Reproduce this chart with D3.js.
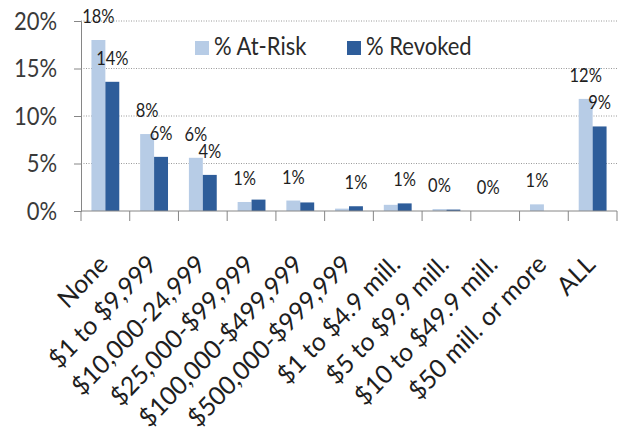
<!DOCTYPE html>
<html>
<head>
<meta charset="utf-8">
<script src="https://cdn.jsdelivr.net/npm/d3@7"></script>
<style>
  html, body { margin: 0; padding: 0; background: #fff; }
  svg { display: block; }
  text { font-family: Lato, "Open Sans", sans-serif; }
</style>
</head>
<body>
<svg id="chart" width="623" height="431"></svg>
<script>
// Asset brackets (x-axis categories)
const categories = [
  "None", "$1 to $9,999", "$10,000-24,999", "$25,000-$99,999",
  "$100,000-$499,999", "$500,000-$999,999", "$1 to $4.9 mill.",
  "$5 to $9.9 mill.", "$10 to $49.9 mill.", "$50 mill. or more", "ALL"
];
// Percent of organizations in each bracket
const atRisk  = [18.0, 8.1, 5.6, 0.95, 1.1, 0.25, 0.65, 0.2, 0.0, 0.7, 11.8];
const revoked = [13.6, 5.7, 3.8, 1.2, 0.9, 0.5, 0.8, 0.15, 0.0, 0.0, 8.9];
// Which series carries a value label in each bracket
const labelSeries = ["both", "both", "both", "atRisk", "atRisk", "revoked",
                     "revoked", "atRisk", "atRisk", "atRisk", "both"];
const seriesNames = ["% At-Risk", "% Revoked"];
const yTicks = [0, 5, 10, 15, 20];

const seriesKeys = ["atRisk", "revoked"];
const colors = { atRisk: "#b7cce6", revoked: "#2e5d9a" };
const stretch = "scale(1,1.15)";

const svg = d3.select("#chart");
const plotLeft = 81, plotRight = 617, plotTop = 21, plotBottom = 211;

const x = d3.scaleBand()
  .domain(categories)
  .range([plotLeft, plotRight])
  .paddingInner(1.5 / 3.5)
  .paddingOuter(0.75 / 3.5);
const xs = d3.scaleBand().domain(seriesKeys).range([0, x.bandwidth()]);
const y = d3.scaleLinear().domain([0, 20]).range([plotBottom, plotTop]);

const rows = categories.map((c, i) => ({ cat: c, atRisk: atRisk[i], revoked: revoked[i], show: labelSeries[i] }));

// dotted gridlines
svg.append("g")
  .selectAll("line")
  .data(yTicks.filter(t => t > 0))
  .join("line")
  .attr("x1", plotLeft).attr("x2", plotRight)
  .attr("y1", d => y(d)).attr("y2", d => y(d))
  .attr("stroke", "#9a9a9a")
  .attr("stroke-width", 1)
  .attr("stroke-dasharray", "1,1.5");

// y axis
const yAxis = svg.append("g")
  .attr("transform", `translate(${plotLeft},0)`)
  .call(d3.axisLeft(y).tickValues(yTicks).tickSize(7).tickPadding(17)
    .tickFormat(d => d + "%"));
yAxis.select(".domain").attr("stroke", "#868686");
yAxis.selectAll(".tick line").attr("stroke", "#868686");
yAxis.selectAll(".tick text")
  .attr("font-size", 22)
  .attr("fill", "#3a3a3a")
  .attr("transform", stretch);

// bars
const groups = svg.append("g")
  .selectAll("g")
  .data(rows)
  .join("g")
  .attr("transform", d => `translate(${x(d.cat)},0)`);

groups.selectAll("rect")
  .data(d => seriesKeys.map(k => ({ key: k, value: d[k] })))
  .join("rect")
  .attr("x", d => xs(d.key))
  .attr("width", xs.bandwidth())
  .attr("y", d => y(d.value))
  .attr("height", d => plotBottom - y(d.value))
  .attr("fill", d => colors[d.key]);

// value labels
groups.selectAll("text")
  .data(d => seriesKeys
    .filter(k => d.show === "both" || d.show === k)
    .map(k => ({ key: k, value: d[k] })))
  .join("text")
  .attr("transform", d => `translate(${xs(d.key) + xs.bandwidth() / 2},${y(d.value) - 17}) ${stretch}`)
  .attr("text-anchor", "middle")
  .attr("font-size", 16.5)
  .attr("fill", "#1e1e1e")
  .text(d => Math.round(d.value) + "%");

// x axis with category ticks at bracket boundaries
const xAxisG = svg.append("g").attr("transform", `translate(0,${plotBottom})`);
xAxisG.append("line")
  .attr("x1", plotLeft).attr("x2", plotRight)
  .attr("stroke", "#868686");
xAxisG.selectAll(".sep")
  .data(d3.range(categories.length + 1))
  .join("line")
  .attr("class", "sep")
  .attr("x1", i => plotLeft + i * x.step())
  .attr("x2", i => plotLeft + i * x.step())
  .attr("y1", 0).attr("y2", 10)
  .attr("stroke", "#868686");

const xAxis = xAxisG.append("g")
  .call(d3.axisBottom(x).tickSize(0).tickPadding(0));
xAxis.select(".domain").remove();
xAxis.selectAll(".tick text")
  .attr("x", 0).attr("y", 0).attr("dy", 0)
  .attr("text-anchor", "end")
  .attr("font-size", 24.5)
  .attr("fill", "#1e1e1e")
  .attr("transform", "translate(4,55) scale(1,1.05) rotate(-45)");

// legend
const legend = svg.append("g");
const legendX = [195, 347];
seriesKeys.forEach((k, i) => {
  legend.append("rect")
    .attr("x", legendX[i]).attr("y", 41)
    .attr("width", 14).attr("height", 14)
    .attr("fill", colors[k]);
  legend.append("text")
    .attr("transform", `translate(${legendX[i] + 19},55) ${stretch}`)
    .attr("font-size", 22)
    .attr("fill", "#2a2a2a")
    .text(seriesNames[i]);
});
</script>
</body>
</html>
